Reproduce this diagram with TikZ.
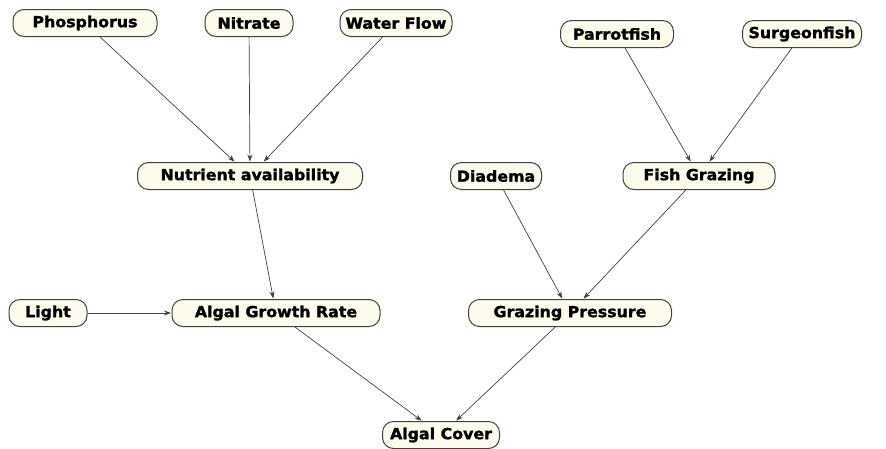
\documentclass[tikz,border=0pt]{standalone}
\usepackage{fontspec}
\setmainfont{DejaVu Sans}
\newfontfamily\heavyfont[FakeBold=1.6,FakeStretch=1.04]{DejaVu Sans Bold}
\usetikzlibrary{arrows.meta}
\definecolor{boxfill}{HTML}{FDFBEC}
\begin{document}
\begin{tikzpicture}[x=1pt,y=-1pt,
  var/.style={draw=black!75, line width=1pt, fill=boxfill, rounded corners=11pt,
    minimum height=27pt, inner sep=0pt, font=\fontsize{15.2}{15.2}\heavyfont},
  link/.style={draw=black!75, line width=0.7pt, -{Stealth[length=7pt,width=5pt]}, shorten >=0.5pt}]
\useasboundingbox (0,0) rectangle (886,448);
\node[var, minimum width=144pt] (phos) at (85,23) {Phosphorus};
\node[var, minimum width=88pt] (nitr) at (249,23) {Nitrate};
\node[var, minimum width=112pt] (flow) at (396,23) {Water Flow};
\node[var, minimum width=113pt] (parr) at (617,34) {Parrotfish};
\node[var, minimum width=119pt] (surg) at (802,34) {Surgeonfish};
\node[var, minimum width=225pt] (nutr) at (250,176) {Nutrient availability};
\node[var, minimum width=91pt] (diad) at (496,176) {Diadema};
\node[var, minimum width=152pt] (fish) at (699,176) {Fish Grazing};
\node[var, minimum width=78pt] (light) at (48,313) {Light};
\node[var, minimum width=208pt] (grow) at (276,313) {Algal Growth Rate};
\node[var, minimum width=203pt] (graz) at (570,313) {Grazing Pressure};
\node[var, minimum width=117pt] (cover) at (441,435) {Algal Cover};
\draw[link] (phos) -- (nutr);
\draw[link] (nitr) -- (nutr);
\draw[link] (flow) -- (nutr);
\draw[link] (parr) -- (fish);
\draw[link] (surg) -- (fish);
\draw[link] (nutr) -- (grow);
\draw[link] (diad) -- (graz);
\draw[link] (fish) -- (graz);
\draw[link] (light) -- (grow);
\draw[link] (grow) -- (cover);
\draw[link] (graz) -- (cover);
\end{tikzpicture}
\end{document}
